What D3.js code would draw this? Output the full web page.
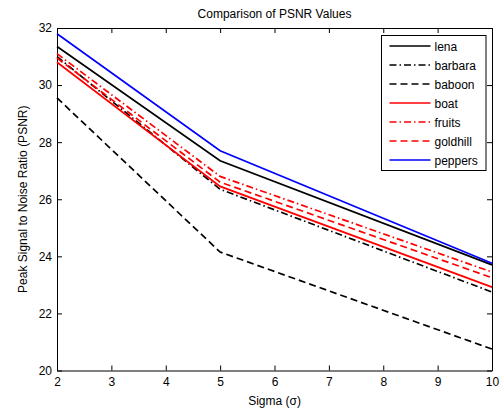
<!DOCTYPE html>
<html lang="en">
<meta charset="utf-8">
<style>
body { margin: 0; background: #fff; font-family: 'Liberation Sans', Arial, sans-serif; }
.axis text { font-size: 12px; fill: #000; }
</style>
<body>
<div id="chart"></div>
<script src="https://d3js.org/d3.v7.min.js"></script>
<script>
// sigma values where PSNR was measured
var sigma = [2, 5, 10];

var lena     = [31.35, 27.35, 23.70];
var barbara  = [31.00, 26.35, 22.75];
var baboon   = [29.55, 24.15, 20.75];
var boat     = [30.80, 26.45, 22.92];
var fruits   = [31.10, 26.80, 23.45];
var goldhill = [30.95, 26.60, 23.25];
var peppers  = [31.80, 27.70, 23.76];

var xTicks = [2, 3, 4, 5, 6, 7, 8, 9, 10];
var yTicks = [20, 22, 24, 26, 28, 30, 32];

var series = [
  { name: "lena",     values: lena,     color: "#000", dash: null },
  { name: "barbara",  values: barbara,  color: "#000", dash: "7,3,1.5,3" },
  { name: "baboon",   values: baboon,   color: "#000", dash: "7,4" },
  { name: "boat",     values: boat,     color: "#f00", dash: null },
  { name: "fruits",   values: fruits,   color: "#f00", dash: "7,3,1.5,3" },
  { name: "goldhill", values: goldhill, color: "#f00", dash: "7,4" },
  { name: "peppers",  values: peppers,  color: "#00f", dash: null }
];

var width = 501, height = 409;
var margin = { top: 28, right: 9, bottom: 38.5, left: 57 };

var svg = d3.select("#chart").append("svg")
    .attr("width", width)
    .attr("height", height);

var x = d3.scaleLinear().domain([2, 10]).range([margin.left, width - margin.right]);
var y = d3.scaleLinear().domain([20, 32]).range([height - margin.bottom, margin.top]);

// axes box with inward ticks on all four sides
svg.append("g").attr("class", "axis")
    .attr("transform", "translate(0," + y(20) + ")")
    .call(d3.axisBottom(x).tickValues(xTicks).tickSizeInner(-5).tickSizeOuter(0).tickPadding(7))
    .call(function(g) { g.selectAll("path, line").attr("stroke", "#000"); });

svg.append("g").attr("class", "axis")
    .attr("transform", "translate(0," + y(32) + ")")
    .call(d3.axisTop(x).tickValues(xTicks).tickSizeInner(-5).tickSizeOuter(0).tickFormat(""))
    .call(function(g) { g.selectAll("path, line").attr("stroke", "#000"); });

svg.append("g").attr("class", "axis")
    .attr("transform", "translate(" + x(2) + ",0)")
    .call(d3.axisLeft(y).tickValues(yTicks).tickSizeInner(-5).tickSizeOuter(0).tickPadding(5))
    .call(function(g) { g.selectAll("path, line").attr("stroke", "#000"); });

svg.append("g").attr("class", "axis")
    .attr("transform", "translate(" + x(10) + ",0)")
    .call(d3.axisRight(y).tickValues(yTicks).tickSizeInner(-5).tickSizeOuter(0).tickFormat(""))
    .call(function(g) { g.selectAll("path, line").attr("stroke", "#000"); });

// lines
var line = d3.line()
    .x(function(d, i) { return x(sigma[i]); })
    .y(function(d) { return y(d); });

svg.append("g").selectAll("path")
    .data(series)
  .enter().append("path")
    .attr("d", function(d) { return line(d.values); })
    .attr("fill", "none")
    .attr("stroke", function(d) { return d.color; })
    .attr("stroke-width", 1.7)
    .attr("stroke-dasharray", function(d) { return d.dash; });

// titles
svg.append("text")
    .attr("x", (x(2) + x(10)) / 2).attr("y", 18)
    .attr("text-anchor", "middle").style("font-size", "12px")
    .text("Comparison of PSNR Values");

svg.append("text")
    .attr("x", (x(2) + x(10)) / 2).attr("y", 405)
    .attr("text-anchor", "middle").style("font-size", "12px")
    .text("Sigma (\u03c3)");

svg.append("text")
    .attr("transform", "translate(27," + (y(26)) + ") rotate(-90)")
    .attr("text-anchor", "middle").style("font-size", "12px")
    .text("Peak Signal to Noise Ratio (PSNR)");

// legend
var legend = svg.append("g").attr("transform", "translate(381.5,35.5)");
legend.append("rect")
    .attr("width", 104.5).attr("height", 135)
    .attr("fill", "#fff").attr("stroke", "#000");

var item = legend.selectAll("g.item")
    .data(series)
  .enter().append("g")
    .attr("class", "item")
    .attr("transform", function(d, i) { return "translate(0," + (10.5 + i * 19) + ")"; });

item.append("line")
    .attr("x1", 8).attr("x2", 49)
    .attr("stroke", function(d) { return d.color; })
    .attr("stroke-width", 1.7)
    .attr("stroke-dasharray", function(d) { return d.dash; });

item.append("text")
    .attr("x", 53).attr("y", 4.5)
    .style("font-size", "12px")
    .text(function(d) { return d.name; });
</script>
</body>
</html>
